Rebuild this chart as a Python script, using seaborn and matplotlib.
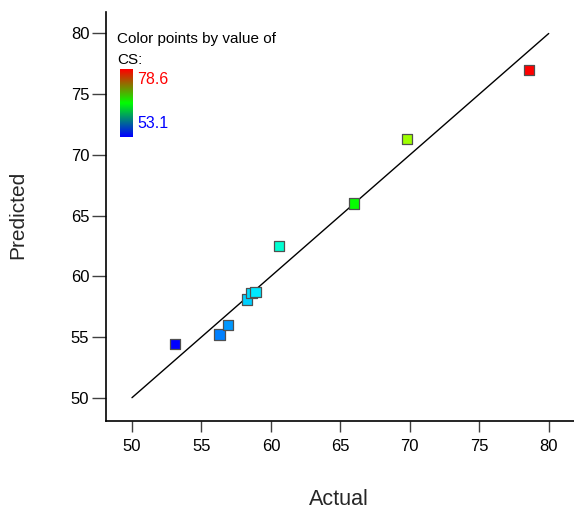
import numpy as np
import pandas as pd
import matplotlib
matplotlib.use("Agg")
import matplotlib.pyplot as plt
from matplotlib.colors import ListedColormap, LinearSegmentedColormap, hsv_to_rgb
import seaborn as sns

# Observed vs. model-predicted compressive strength (CS)
actual = [53.1, 56.3, 56.9, 58.3, 58.6, 58.9, 60.6, 66.0, 69.8, 78.6]
predicted = [54.4, 55.2, 56.0, 58.1, 58.65, 58.7, 62.5, 66.0, 71.3, 77.0]
ticks = [50, 55, 60, 65, 70, 75, 80]
cs_min, cs_max = 53.1, 78.6
ideal = [50, 80]

df = pd.DataFrame({"Actual": actual, "Predicted": predicted})

sns.set_theme(style="white")
plt.rcParams["font.family"] = ["Liberation Sans", "DejaVu Sans"]

# Point colours run through hue from blue (low) to red (high)
hues = np.linspace(240 / 360, 0, 256)
point_cmap = ListedColormap(hsv_to_rgb(np.stack([hues, np.ones(256), np.ones(256)], axis=1)))
# Legend bar: blue -> green -> red
bar_cmap = LinearSegmentedColormap.from_list("cs_bar", ["#0000ff", "#00ff00", "#ff0000"])

W, H = 574, 516
fig = plt.figure(figsize=(W / 100, H / 100), dpi=100)
ax = fig.add_axes([106 / W, 1 - 421 / H, 1 - 106 / W, (421 - 12) / H])

sns.lineplot(x=ideal, y=ideal, ax=ax, color="black", lw=1.0)
sns.scatterplot(data=df, x="Actual", y="Predicted", hue="Actual", palette=point_cmap,
                hue_norm=(cs_min, cs_max), marker="s", s=55, edgecolor="#505050",
                linewidth=0.9, legend=False, ax=ax, zorder=3)

ax.set_xlim(48.13, 81.82)
ax.set_ylim(48.08, 81.77)
ax.set_xticks(ticks)
ax.set_yticks(ticks)
ax.set_xticklabels([str(t) for t in ticks])
ax.set_yticklabels([str(t) for t in ticks])
for side in ["top", "right"]:
    ax.spines[side].set_visible(False)
for side in ["left", "bottom"]:
    ax.spines[side].set_color("black")
    ax.spines[side].set_linewidth(1.2)
ax.tick_params(axis="x", which="both", direction="out", length=8, width=1, color="#404040",
               pad=5, labelsize=12, labelcolor="black", bottom=True)
ax.tick_params(axis="y", which="both", direction="out", length=10, width=1, color="#404040",
               pad=2, labelsize=12, labelcolor="black", left=True)
ax.set_xlabel("Actual", fontsize=15.5)
ax.set_ylabel("Predicted", fontsize=15)
# label anchors: top of "Actual", right side of rotated "Predicted"
ax.xaxis.set_label_coords((339 - 106) / (W - 106), (421 - 489) / (421 - 12))
ax.yaxis.set_label_coords((27 - 106) / (W - 106), (421 - 215) / (421 - 12))

# Colour key in the upper-left corner
fig.text(117 / W, 1 - 43 / H, "Color points by value of", fontsize=11,
         ha="left", va="baseline", color="black")
fig.text(117 / W, 1 - 64 / H, "CS:", fontsize=11,
         ha="left", va="baseline", color="black")
cax = fig.add_axes([120 / W, 1 - 137 / H, 12.7 / W, 68 / H])
cax.imshow(np.linspace(1, 0, 100).reshape(-1, 1), aspect="auto", cmap=bar_cmap)
cax.set_axis_off()
fig.text(137 / W, 1 - 80 / H, f"{cs_max}", fontsize=11.5,
         ha="left", va="center", color="#ff0000")
fig.text(137 / W, 1 - 123 / H, f"{cs_min}", fontsize=11.5,
         ha="left", va="center", color="#0000ff")

fig.savefig("out.png", dpi=100)
